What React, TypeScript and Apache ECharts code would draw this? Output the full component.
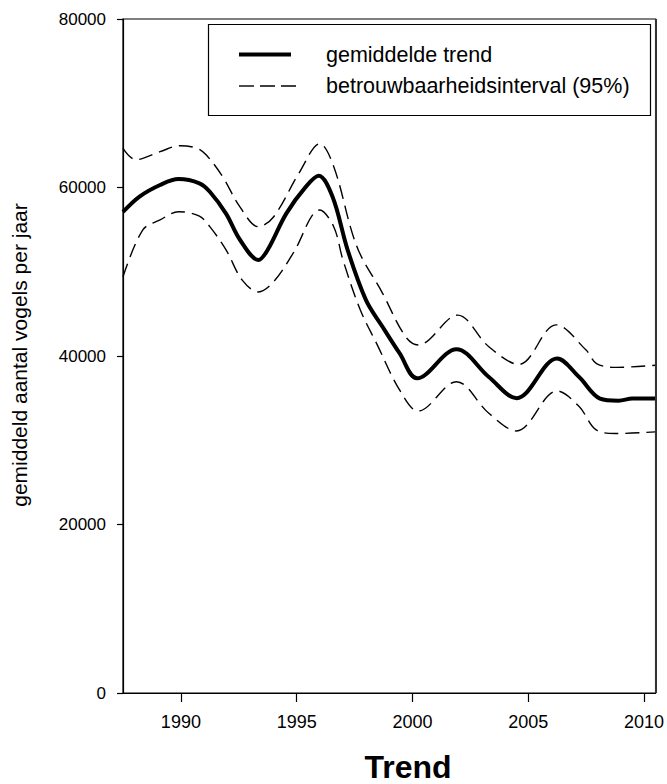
import React, { useEffect, useRef } from "react";
import * as echarts from "echarts";

// Mean trend of birds counted per year, with its 95% confidence band
const trendYears = [1987.5, 1988.2, 1989.1, 1989.9, 1990.8, 1991.25, 1991.95, 1992.55, 1993.35, 1993.75, 1994.55, 1995.4, 1995.95, 1996.55, 1997.2, 1998.0, 1998.7, 1999.45, 2000.2, 2001.9, 2003.3, 2004.5, 2006.25, 2007.2, 2008.1, 2008.9, 2009.5, 2010.5];
const trendValues = [57100, 58900, 60300, 61000, 60500, 59500, 56900, 53800, 51400, 52600, 56900, 60100, 61400, 58900, 52600, 46600, 43500, 40300, 37350, 40800, 37500, 35000, 39700, 37500, 34950, 34700, 34950, 34950];

const upperYears = [1987.5, 1988.05, 1989.1, 1989.95, 1990.7, 1991.1, 1991.8, 1992.55, 1993.35, 1994.0, 1995.1, 1996.0, 1996.6, 1997.6, 1998.7, 1999.7, 2000.25, 2001.95, 2003.3, 2004.6, 2006.2, 2007.5, 2007.95, 2008.8, 2010.5];
const upperValues = [64650, 63300, 64250, 64960, 64650, 63850, 61300, 57700, 55350, 56500, 61700, 65200, 62500, 53000, 47500, 42300, 41300, 44850, 41100, 39000, 43700, 40700, 39100, 38650, 38900];

const lowerYears = [1987.5, 1988.35, 1989.1, 1989.9, 1990.8, 1991.25, 1991.95, 1992.65, 1993.35, 1994.0, 1994.85, 1996.0, 1996.6, 1997.0, 1997.75, 1998.45, 1999.45, 2000.25, 2001.9, 2003.3, 2004.5, 2006.25, 2007.2, 2007.95, 2008.8, 2010.5];
const lowerValues = [49400, 54950, 56150, 57130, 56600, 55350, 52600, 49000, 47600, 48800, 52200, 57330, 55350, 51400, 45450, 41500, 35950, 33460, 36950, 33200, 31100, 35850, 34000, 31200, 30800, 31000];

const xTicks = [1990, 1995, 2000, 2005, 2010];

const legendLabels = ["gemiddelde trend", "betrouwbaarheidsinterval (95%)"];
const yTitle = "gemiddeld aantal vogels per jaar";
const xTitle = "Trend";

const FONT = "'Liberation Sans', Arial, Helvetica, sans-serif";

const pairs = (xs: number[], ys: number[]) => xs.map((x, i) => [x, ys[i]]);

export default function App() {
  const ref = useRef<HTMLDivElement>(null);

  useEffect(() => {
    if (!ref.current) return;
    const chart = echarts.init(ref.current, null, { renderer: "svg" });

    const dashed = { color: "#000", width: 1.4, type: [14, 7] as number[] };

    chart.setOption({
      animation: false,
      backgroundColor: "#fff",
      grid: {
        left: 123,
        right: 11,
        top: 19,
        bottom: 91,
        show: true,
        borderColor: "#000",
        borderWidth: 1.2,
        backgroundColor: "transparent",
      },
      xAxis: {
        type: "value",
        min: 1987.5,
        max: 2010.5,
        axisLine: { show: true, lineStyle: { color: "#000", width: 1.2 } },
        axisTick: {
          show: true,
          inside: false,
          length: 9,
          lineStyle: { color: "#000", width: 1.2 },
          customValues: xTicks,
        },
        axisLabel: {
          color: "#000",
          fontFamily: FONT,
          fontSize: 18,
          margin: 20,
          customValues: xTicks,
          formatter: (v: number) => String(v),
        },
        splitLine: { show: false },
      },
      yAxis: {
        type: "value",
        min: 0,
        max: 80000,
        interval: 20000,
        axisLine: { show: true, lineStyle: { color: "#000", width: 1.2 } },
        axisTick: { show: true, inside: false, length: 6, lineStyle: { color: "#000", width: 1.2 } },
        axisLabel: {
          color: "#000",
          fontFamily: FONT,
          fontSize: 17,
          margin: 17,
          formatter: (v: number) => String(v),
        },
        splitLine: { show: false },
      },
      series: [
        {
          name: legendLabels[1],
          type: "line",
          data: pairs(upperYears, upperValues),
          smooth: 0.35,
          showSymbol: false,
          lineStyle: dashed,
        },
        {
          name: legendLabels[1] + " ",
          type: "line",
          data: pairs(lowerYears, lowerValues),
          smooth: 0.35,
          showSymbol: false,
          lineStyle: dashed,
        },
        {
          name: legendLabels[0],
          type: "line",
          data: pairs(trendYears, trendValues),
          smooth: 0.35,
          showSymbol: false,
          lineStyle: { color: "#000", width: 4 },
        },
      ],
      graphic: [
        // right edge of the frame is drawn a little heavier
        {
          type: "line",
          shape: { x1: 656, y1: 19, x2: 656, y2: 693 },
          style: { stroke: "#333", lineWidth: 2 },
          z: 50,
        },
        {
          type: "rect",
          shape: { x: 208.5, y: 24.5, width: 442, height: 91 },
          style: { fill: "#fff", stroke: "#000", lineWidth: 1.2 },
          z: 100,
        },
        {
          type: "line",
          shape: { x1: 239, y1: 54.5, x2: 291, y2: 54.5 },
          style: { stroke: "#000", lineWidth: 4 },
          z: 101,
        },
        {
          type: "line",
          shape: { x1: 239, y1: 86, x2: 302, y2: 86 },
          style: { stroke: "#000", lineWidth: 1.4, lineDash: [15, 6] },
          z: 101,
        },
        {
          type: "text",
          x: 326,
          y: 55,
          style: {
            text: legendLabels[0],
            fill: "#000",
            font: `21.5px ${FONT}`,
            verticalAlign: "middle",
          },
          z: 101,
        },
        {
          type: "text",
          x: 326,
          y: 86,
          style: {
            text: legendLabels[1],
            fill: "#000",
            font: `21.5px ${FONT}`,
            verticalAlign: "middle",
          },
          z: 101,
        },
        {
          type: "text",
          x: 19,
          y: 355,
          rotation: Math.PI / 2,
          style: {
            text: yTitle,
            fill: "#000",
            font: `21px ${FONT}`,
            align: "center",
            verticalAlign: "middle",
          },
        },
        {
          type: "text",
          x: 408,
          y: 767,
          style: {
            text: xTitle,
            fill: "#000",
            font: `bold 32px ${FONT}`,
            align: "center",
            verticalAlign: "middle",
          },
        },
      ],
    });

    return () => chart.dispose();
  }, []);

  return (
    <div
      ref={ref}
      style={{ position: "fixed", left: 0, top: 0, width: 667, height: 784, background: "#fff" }}
    />
  );
}
